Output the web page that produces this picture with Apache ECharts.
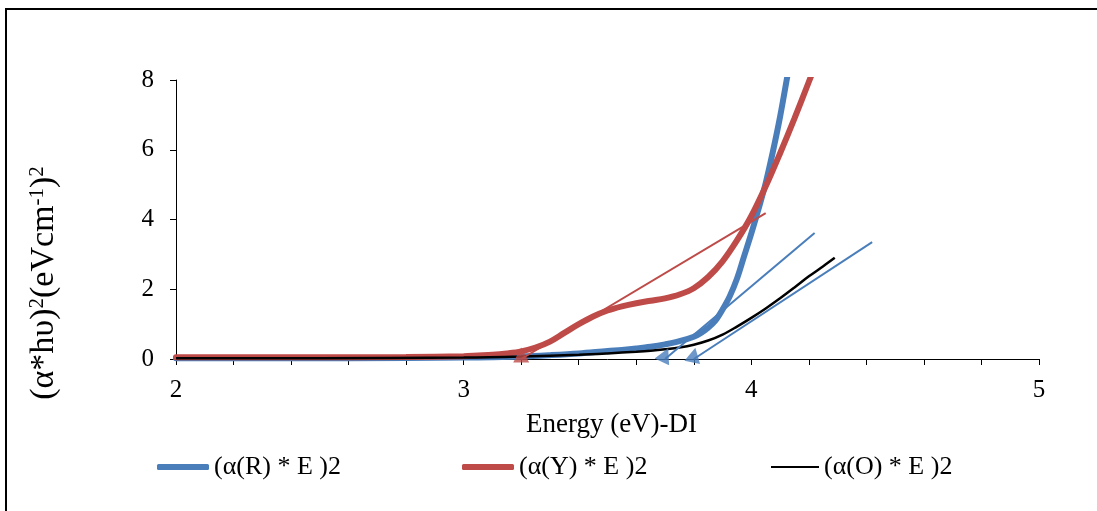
<!DOCTYPE html>
<html>
<head>
<meta charset="utf-8">
<script src="https://cdn.jsdelivr.net/npm/echarts@6/dist/echarts.min.js"></script>
<style>
  html, body { margin: 0; padding: 0; background: #fff; }
  #chart { width: 1097px; height: 511px; }
</style>
</head>
<body>
<div id="chart"></div>
<script>
// Tauc plot: (alpha * E)^2 against photon energy for three samples
const energyR = [2.0, 2.4, 2.8, 3.0, 3.1, 3.2, 3.3, 3.4, 3.5, 3.55, 3.6, 3.65, 3.7, 3.75, 3.8, 3.825, 3.85, 3.875, 3.9, 3.925, 3.95, 3.975, 4.0, 4.025, 4.05, 4.075, 4.1, 4.125, 4.15];
const valuesR = [0.02, 0.02, 0.03, 0.04, 0.05, 0.07, 0.11, 0.16, 0.23, 0.26, 0.30, 0.35, 0.42, 0.51, 0.64, 0.75, 0.9, 1.1, 1.42, 1.8, 2.3, 2.95, 3.6, 4.3, 5.05, 5.95, 6.95, 8.1, 9.3];

const energyY = [2.0, 2.4, 2.8, 3.0, 3.05, 3.1, 3.15, 3.2, 3.25, 3.3, 3.35, 3.4, 3.45, 3.5, 3.55, 3.6, 3.65, 3.7, 3.75, 3.8, 3.85, 3.9, 3.95, 4.0, 4.05, 4.1, 4.15, 4.2, 4.25];
const valuesY = [0.05, 0.05, 0.06, 0.08, 0.1, 0.12, 0.16, 0.22, 0.33, 0.5, 0.75, 1.0, 1.22, 1.39, 1.51, 1.6, 1.67, 1.74, 1.85, 2.03, 2.35, 2.8, 3.4, 4.1, 4.95, 5.9, 6.9, 7.95, 9.0];

const energyO = [2.0, 2.5, 3.0, 3.2, 3.4, 3.5, 3.6, 3.65, 3.7, 3.75, 3.8, 3.85, 3.9, 3.95, 4.0, 4.05, 4.1, 4.15, 4.2, 4.25, 4.29];
const valuesO = [0.02, 0.02, 0.04, 0.07, 0.12, 0.16, 0.21, 0.24, 0.28, 0.33, 0.41, 0.53, 0.70, 0.93, 1.18, 1.45, 1.74, 2.05, 2.37, 2.66, 2.9];

// Linear extrapolations of the absorption edges: [start energy, start value, end energy, end value]
const tangentY = [3.2, 0, 4.05, 4.18];
const tangentR = [3.7, 0, 4.22, 3.61];
const tangentO = [3.8, 0, 4.42, 3.35];

// Band-gap intercepts on the energy axis
const gapEnergies = [3.2, 3.7, 3.8];

const seriesNames = ['(α(R) * E )2', '(α(Y) * E )2', '(α(O) * E )2'];
const xTicks = [2, 3, 4, 5];
const yTicks = [0, 2, 4, 6, 8];

const BLUE = '#4A7EBB';
const RED = '#BE4B48';
const BLACK = '#000000';
const FONT = 'Liberation Serif';

const zip = (xs, ys) => xs.map((x, i) => [x, ys[i]]);
const seg = t => [[t[0], t[1]], [t[2], t[3]]];

const chart = echarts.init(document.getElementById('chart'), null, { renderer: 'canvas' });

const legendBase = {
  orient: 'horizontal',
  top: 454,
  padding: 0,
  itemGap: 0,
  textStyle: { fontFamily: FONT, fontSize: 26, color: '#000' }
};

chart.setOption({
  animation: false,
  backgroundColor: '#fff',
  grid: { left: 176, right: 58, top: 80, bottom: 152, containLabel: false },
  xAxis: {
    type: 'value',
    min: xTicks[0],
    max: xTicks[xTicks.length - 1],
    interval: 1,
    name: 'Energy (eV)-DI',
    nameLocation: 'middle',
    nameGap: 52,
    nameTextStyle: { fontFamily: FONT, fontSize: 27, color: '#000', padding: [0, 0, 0, 8] },
    axisLine: { show: true, onZero: false, lineStyle: { color: '#000', width: 1 } },
    axisTick: { show: true, inside: false, length: 6, lineStyle: { color: '#000' } },
    minorTick: { show: true, splitNumber: 5, length: 6, lineStyle: { color: '#000' } },
    axisLabel: { fontFamily: FONT, fontSize: 25, color: '#000', margin: 19 },
    splitLine: { show: false }
  },
  yAxis: {
    type: 'value',
    min: yTicks[0],
    max: yTicks[yTicks.length - 1],
    interval: 2,
    axisLine: { show: true, lineStyle: { color: '#000', width: 1 } },
    axisTick: { show: true, inside: false, length: 6, lineStyle: { color: '#000' } },
    axisLabel: { fontFamily: FONT, fontSize: 25, color: '#000', margin: 22 },
    splitLine: { show: false }
  },
  legend: [
    Object.assign({}, legendBase, {
      left: 157, itemWidth: 52, itemHeight: 6, icon: 'roundRect',
      data: [{ name: seriesNames[0], itemStyle: { color: BLUE } }]
    }),
    Object.assign({}, legendBase, {
      left: 462, itemWidth: 52, itemHeight: 6, icon: 'roundRect',
      data: [{ name: seriesNames[1], itemStyle: { color: RED } }]
    }),
    Object.assign({}, legendBase, {
      left: 771, itemWidth: 48, itemHeight: 2, icon: 'rect',
      data: [{ name: seriesNames[2], itemStyle: { color: BLACK } }]
    })
  ],
  graphic: [
    {
      type: 'rect',
      silent: true,
      shape: { x: 6, y: 9, width: 1200, height: 600 },
      style: { fill: 'none', stroke: '#000', lineWidth: 2 }
    },
    {
      type: 'text',
      x: 44,
      y: 283,
      rotation: Math.PI / 2,
      silent: true,
      style: {
        text: '(α*hυ){s|2}(eVcm{s|-1}){s|2}',
        fontFamily: FONT,
        fontSize: 34,
        fill: '#000',
        align: 'center',
        verticalAlign: 'middle',
        rich: {
          s: { fontFamily: FONT, fontSize: 21, fill: '#000', verticalAlign: 'top', padding: [0, 0, 11, 0] }
        }
      }
    }
  ],
  series: [
    {
      name: seriesNames[0], type: 'line', data: zip(energyR, valuesR),
      symbol: 'none', smooth: 0.35, clip: true,
      lineStyle: { color: BLUE, width: 6, cap: 'round' }, itemStyle: { color: BLUE }, z: 2
    },
    {
      name: seriesNames[1], type: 'line', data: zip(energyY, valuesY),
      symbol: 'none', smooth: 0.35, clip: true,
      lineStyle: { color: RED, width: 6, cap: 'round' }, itemStyle: { color: RED }, z: 3
    },
    {
      name: seriesNames[2], type: 'line', data: zip(energyO, valuesO),
      symbol: 'none', smooth: 0.35, clip: true,
      lineStyle: { color: BLACK, width: 2.5 }, itemStyle: { color: BLACK }, z: 4
    },
    {
      name: 'tangent-Y', type: 'line', data: seg(tangentY), symbol: 'none',
      lineStyle: { color: RED, width: 2 }, z: 5, silent: true
    },
    {
      name: 'tangent-R', type: 'line', data: seg(tangentR), symbol: 'none',
      lineStyle: { color: BLUE, width: 2 }, z: 5, silent: true
    },
    {
      name: 'tangent-O', type: 'line', data: seg(tangentO), symbol: 'none',
      lineStyle: { color: BLUE, width: 2 }, z: 5, silent: true
    },
    {
      name: 'band-gap', type: 'scatter', clip: false, silent: true, z: 6,
      symbol: 'triangle', symbolSize: [16, 15], symbolOffset: [0, -4],
      data: [
        { value: [gapEnergies[0], 0], itemStyle: { color: RED }, symbolRotate: 0 },
        { value: [gapEnergies[1], 0], itemStyle: { color: BLUE }, symbolRotate: -25 },
        { value: [gapEnergies[2], 0], itemStyle: { color: BLUE }, symbolRotate: -12 }
      ]
    }
  ]
});
</script>
</body>
</html>
